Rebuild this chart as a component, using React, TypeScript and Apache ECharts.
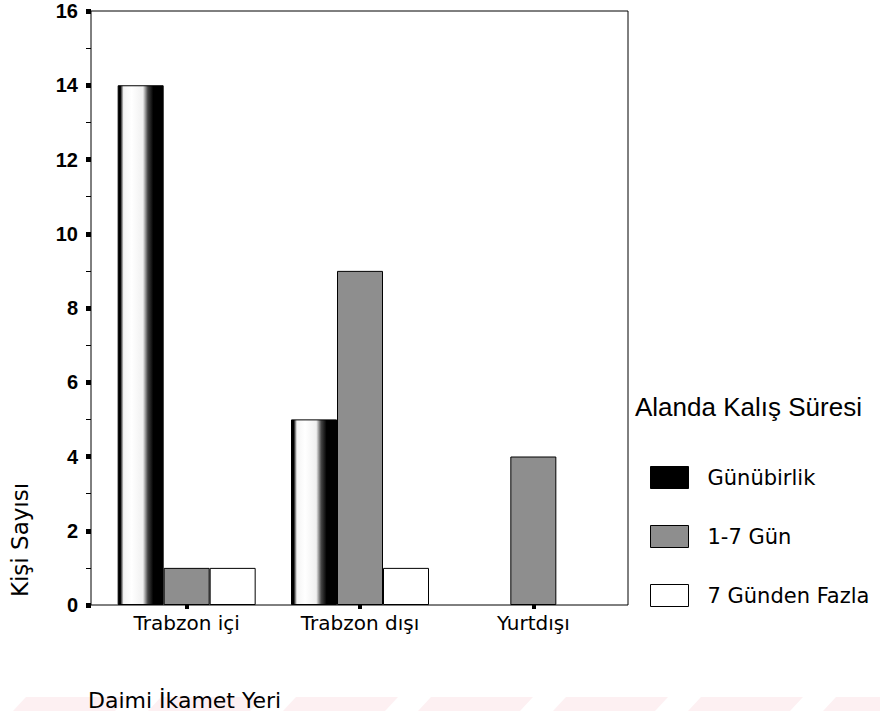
import React, { useEffect, useRef } from "react";
import * as echarts from "echarts";

const categories = ["Trabzon içi", "Trabzon dışı", "Yurtdışı"];
const seriesNames = ["Günübirlik", "1-7 Gün", "7 Günden Fazla"];
const gunubirlik = [14, 5, 0];
const birYediGun = [1, 9, 4];
const yediGundenFazla = [1, 1, 0];
const yTicks = { min: 0, max: 16, interval: 2 };
const yTitle = "Kişi Sayısı";
const xTitle = "Daimi İkamet Yeri";
const legendTitle = "Alanda Kalış Süresi";

// zero-height bars are not drawn in the original chart
const hideZero = (vals: number[]) =>
  vals.map((v) => (v === 0 ? { value: v, itemStyle: { borderWidth: 0, opacity: 0 } } : v));

export default function App() {
  const ref = useRef<HTMLDivElement>(null);
  useEffect(() => {
    if (!ref.current) return;
    const chart = echarts.init(ref.current, null, { renderer: "svg" });

    const blackFill = new echarts.graphic.LinearGradient(0, 0, 1, 0, [
      { offset: 0, color: "#000" },
      { offset: 0.05, color: "#000" },
      { offset: 0.12, color: "#f4f4f4" },
      { offset: 0.3, color: "#ffffff" },
      { offset: 0.55, color: "#f0f0f0" },
      { offset: 0.66, color: "#444" },
      { offset: 0.78, color: "#000" },
      { offset: 1, color: "#000" },
    ]);

    // faint watermark stripes at the bottom of the page
    const stripes: any[] = [];
    for (let k = -5; k < 4; k++) {
      const gs = 520 + 135 * k;
      stripes.push({
        type: "polygon",
        silent: true,
        z: -10,
        shape: {
          points: [
            [gs + 33, 711],
            [gs + 135, 711],
            [gs + 148, 697],
            [gs + 46, 697],
          ],
        },
        style: { fill: "#fdf0f2" },
      });
    }

    const option: any = {
      animation: false,
      backgroundColor: "#fff",
      grid: { left: 100, right: 260, top: 11, bottom: 106 },
      xAxis: {
        type: "category",
        data: categories,
        axisLine: { show: false },
        axisTick: {
          show: true,
          alignWithLabel: true,
          length: 4,
          lineStyle: { color: "#000", width: 4 },
        },
        axisLabel: {
          color: "#000",
          fontSize: 20,
          fontFamily: "DejaVu Sans",
          margin: 8,
        },
      },
      yAxis: {
        type: "value",
        min: yTicks.min,
        max: yTicks.max,
        interval: yTicks.interval,
        offset: 9,
        splitLine: { show: false },
        axisLine: { show: false },
        axisTick: {
          show: true,
          length: 5,
          lineStyle: { color: "#000", width: 5 },
        },
        minorTick: {
          show: true,
          splitNumber: 2,
          length: 5,
          lineStyle: { color: "#000", width: 1 },
        },
        axisLabel: {
          color: "#000",
          fontSize: 20,
          fontWeight: "bold",
          fontFamily: "Liberation Sans",
          margin: 13,
        },
      },
      legend: {
        orient: "vertical",
        left: 645,
        top: 461,
        itemWidth: 38,
        itemHeight: 22,
        itemGap: 36,
        icon: "rect",
        selectedMode: false,
        textStyle: {
          color: "#000",
          fontSize: 21,
          fontFamily: "DejaVu Sans",
          padding: [0, 0, 0, 14],
        },
        data: [
          { name: seriesNames[0], itemStyle: { color: "#000", borderColor: "#000", borderWidth: 1 } },
          { name: seriesNames[1], itemStyle: { color: "#8e8e8e", borderColor: "#000", borderWidth: 1 } },
          { name: seriesNames[2], itemStyle: { color: "#fff", borderColor: "#000", borderWidth: 1 } },
        ],
      },
      series: [
        {
          name: seriesNames[0],
          type: "bar",
          data: hideZero(gunubirlik),
          barWidth: 46,
          barGap: "0%",
          itemStyle: { color: blackFill, borderColor: "#000", borderWidth: 1 },
        },
        {
          name: seriesNames[1],
          type: "bar",
          data: hideZero(birYediGun),
          barWidth: 46,
          barGap: "0%",
          itemStyle: { color: "#8e8e8e", borderColor: "#000", borderWidth: 1 },
        },
        {
          name: seriesNames[2],
          type: "bar",
          data: hideZero(yediGundenFazla),
          barWidth: 46,
          barGap: "0%",
          itemStyle: { color: "#fff", borderColor: "#000", borderWidth: 1 },
        },
      ],
      graphic: [
        ...stripes,
        {
          type: "rect",
          silent: true,
          z: 100,
          shape: { x: 91, y: 11, width: 537, height: 594 },
          style: { fill: "none", stroke: "#000", lineWidth: 1 },
        },
        {
          type: "text",
          x: 20,
          y: 540,
          rotation: Math.PI / 2,
          style: {
            text: yTitle,
            fill: "#000",
            fontSize: 23,
            fontFamily: "DejaVu Sans",
            align: "center",
            verticalAlign: "middle",
          },
        },
        {
          type: "text",
          x: 88,
          y: 700,
          style: {
            text: xTitle,
            fill: "#000",
            fontSize: 22,
            fontFamily: "DejaVu Sans",
            align: "left",
            verticalAlign: "middle",
          },
        },
        {
          type: "text",
          x: 635,
          y: 407,
          style: {
            text: legendTitle,
            fill: "#000",
            fontSize: 26,
            fontFamily: "Liberation Sans",
            align: "left",
            verticalAlign: "middle",
          },
        },
      ],
    };
    chart.setOption(option);
    return () => chart.dispose();
  }, []);
  return (
    <div
      ref={ref}
      style={{ position: "fixed", left: 0, top: 0, width: 880, height: 711 }}
    />
  );
}
